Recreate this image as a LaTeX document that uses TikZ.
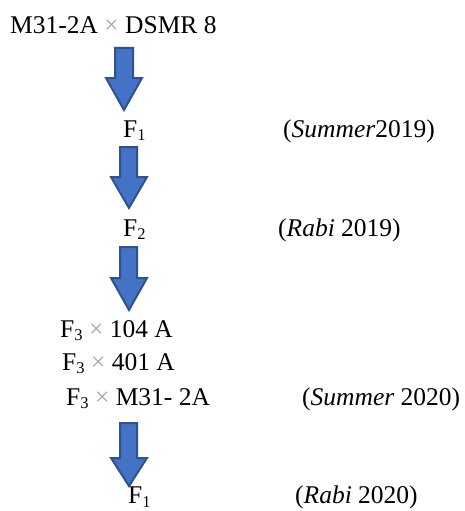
\documentclass[tikz,border=0pt]{standalone}
\usepackage{fontspec}
\setmainfont{Liberation Serif}
\definecolor{arrowfill}{HTML}{4472C4}
\definecolor{arrowline}{HTML}{2F528F}
\newcommand{\Fs}[1]{F\raisebox{-3.5pt}{\fontsize{16.5}{18}\selectfont #1}}
\begin{document}
\begin{tikzpicture}[x=1pt,y=-1pt,
  lbl/.style={inner sep=0pt,anchor=base west,font=\fontsize{25.5}{30}\selectfont},
  blockarrow/.style={draw=arrowline,fill=arrowfill,line width=2pt,line join=miter}]
\useasboundingbox (0,0) rectangle (464,511);
% texts
\node[lbl] (p) at (10,34) {M31-2A {\color{gray!70}×} DSMR 8};
\node[lbl] (f1) at (123,137) {\Fs{1}};
\node[lbl] (s19) at (283,137) {(\textit{Summer}2019)};
\node[lbl] (f2) at (123,236) {\Fs{2}};
\node[lbl] (r19) at (278,236) {(\textit{Rabi} 2019)};
\node[lbl] (c1) at (60,337) {\Fs{3} {\color{gray!70}×} 104 A};
\node[lbl] (c2) at (62,370) {\Fs{3} {\color{gray!70}×} 401 A};
\node[lbl] (c3) at (66,405) {\Fs{3} {\color{gray!70}×} M31- 2A};
\node[lbl] (s20) at (302,405) {(\textit{Summer} 2020)};
\node[lbl] (f1b) at (128,503.5) {\Fs{1}};
\node[lbl] (r20) at (295,503.5) {(\textit{Rabi} 2020)};
% block arrows
\draw[blockarrow] (115,48) -- (133,48) -- (133,78) -- (142,78) -- (124,110) -- (106,78) -- (115,78) -- cycle;
\draw[blockarrow] (120,147) -- (137,147) -- (137,177) -- (147,177) -- (129,208) -- (111,177) -- (120,177) -- cycle;
\draw[blockarrow] (120,247) -- (137,247) -- (137,278) -- (147,278) -- (129,310) -- (111,278) -- (120,278) -- cycle;
\draw[blockarrow] (120,423) -- (137,423) -- (137,458) -- (147,458) -- (129,486) -- (111,458) -- (120,458) -- cycle;
\end{tikzpicture}
\end{document}
